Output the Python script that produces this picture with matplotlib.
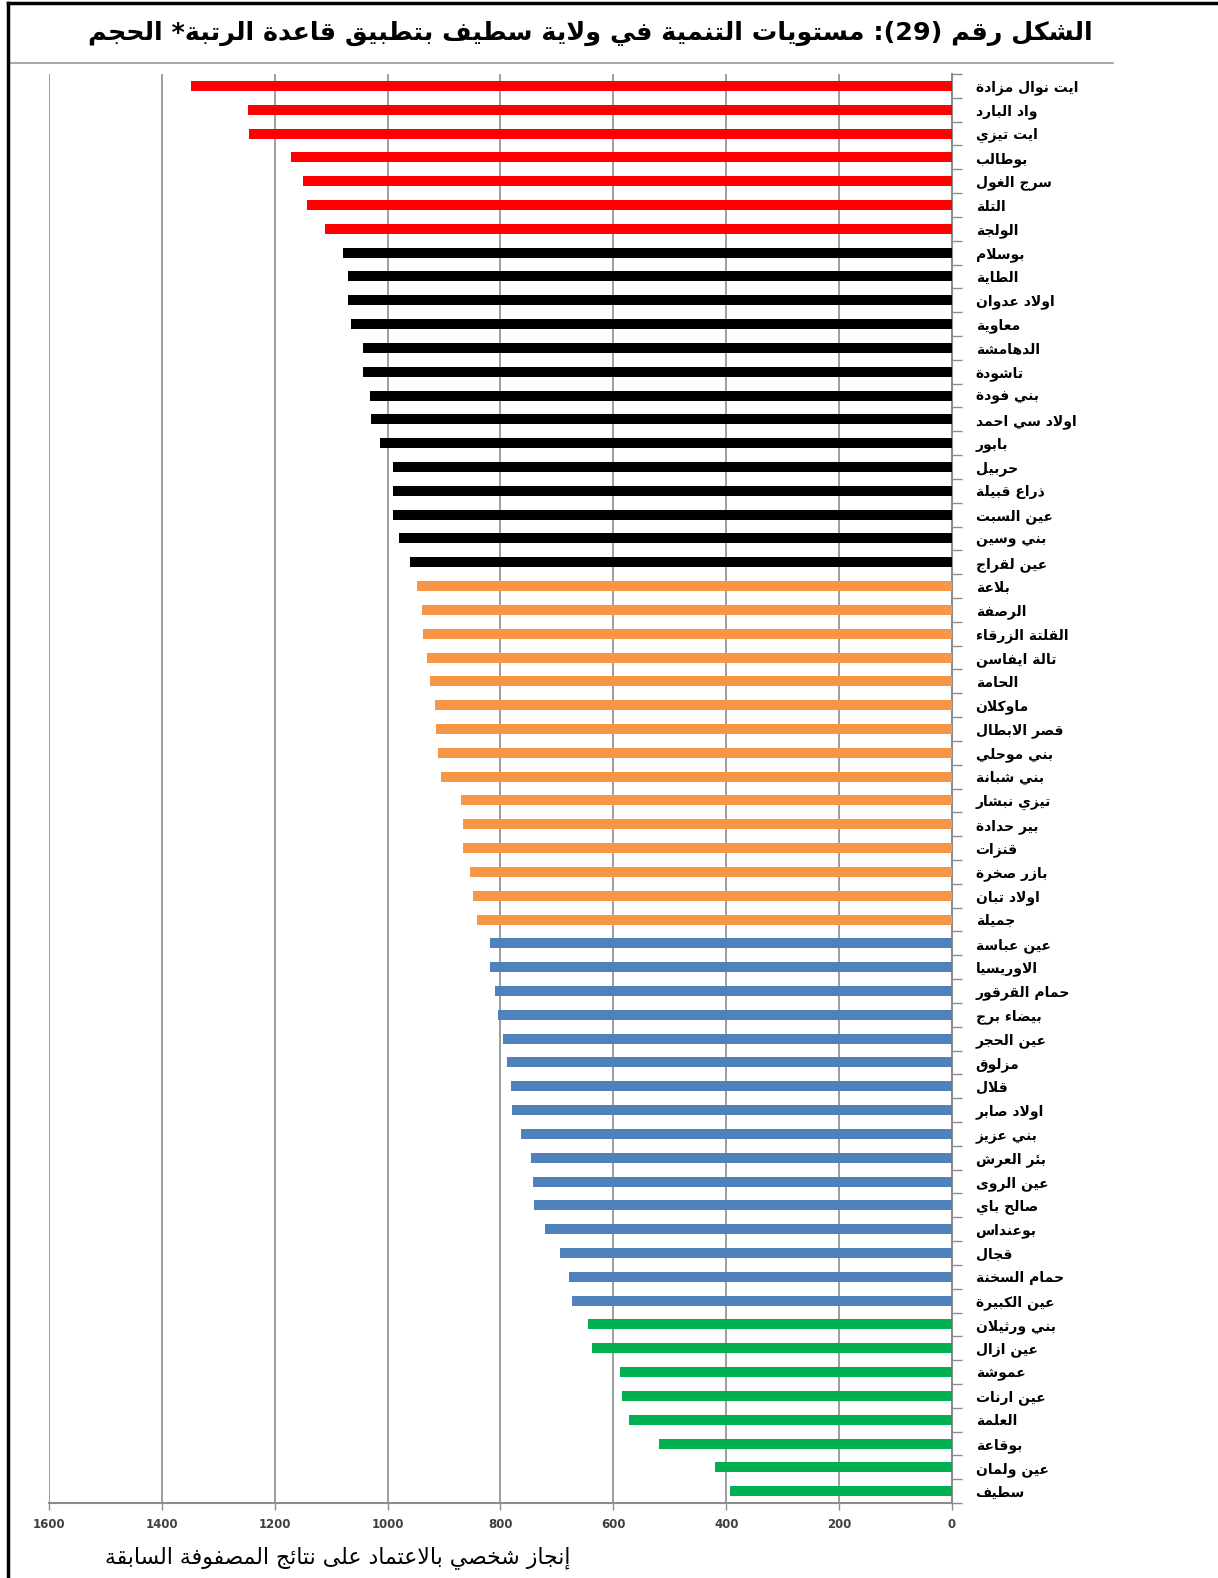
import matplotlib
matplotlib.use("Agg")
import matplotlib.pyplot as plt
from matplotlib.lines import Line2D
from matplotlib.ticker import FixedLocator
import numpy as np

plt.rcParams['font.family'] = ['DejaVu Sans']

# communes ordered from the highest to the lowest rank-size value
communes = [
    "ايت نوال مزادة", "واد البارد", "ايت تيزي", "بوطالب", "سرج الغول", "التلة", "الولجة",
    "بوسلام", "الطاية", "اولاد عدوان", "معاوية", "الدهامشة", "تاشودة", "بني فودة",
    "اولاد سي احمد", "بابور", "حربيل", "ذراع قبيلة", "عين السبت", "بني وسين", "عين لقراج",
    "بلاعة", "الرصفة", "القلتة الزرقاء", "تالة ايفاسن", "الحامة", "ماوكلان", "قصر الابطال",
    "بني موحلي", "بني شبانة", "تيزي نبشار", "بير حدادة", "قنزات", "بازر صخرة", "اولاد تبان",
    "جميلة",
    "عين عباسة", "الاوريسيا", "حمام القرقور", "بيضاء برج", "عين الحجر", "مزلوق", "قلال",
    "اولاد صابر", "بني عزيز", "بئر العرش", "عين الروى", "صالح باي", "بوعنداس", "قجال",
    "حمام السخنة", "عين الكبيرة",
    "بني ورثيلان", "عين ازال", "عموشة", "عين ارنات", "العلمة", "بوقاعة", "عين ولمان", "سطيف",
]
values = [
    1348, 1248, 1245, 1171, 1150, 1143, 1111,
    1079, 1070, 1070, 1064, 1043, 1043, 1032, 1029, 1014, 991, 991, 991, 979, 961,
    948, 939, 938, 930, 925, 916, 914, 911, 905, 870, 866, 866, 854, 848, 841,
    818, 818, 809, 805, 796, 789, 782, 780, 764, 746, 743, 741, 721, 695, 679, 673,
    645, 637, 588, 584, 573, 520, 420, 393,
]
# number of communes in each development level
level_sizes = [7, 14, 15, 16, 8]
level_colors = ["#FF0000", "#000000", "#F79646", "#4F81BD", "#00B050"]

xticks = [0, 200, 400, 600, 800, 1000, 1200, 1400, 1600]

title = "الشكل رقم (29): مستويات التنمية في ولاية سطيف بتطبيق قاعدة الرتبة* الحجم"
source = "إنجاز شخصي بالاعتماد على نتائج المصفوفة السابقة"


# --- minimal Arabic shaping (no raqm in matplotlib) ---
DUAL = {
    '\u0626': 0xFE89, '\u0628': 0xFE8F, '\u062A': 0xFE95, '\u062B': 0xFE99,
    '\u062C': 0xFE9D, '\u062D': 0xFEA1, '\u062E': 0xFEA5, '\u0633': 0xFEB1,
    '\u0634': 0xFEB5, '\u0635': 0xFEB9, '\u0636': 0xFEBD, '\u0637': 0xFEC1,
    '\u0638': 0xFEC5, '\u0639': 0xFEC9, '\u063A': 0xFECD, '\u0641': 0xFED1,
    '\u0642': 0xFED5, '\u0643': 0xFED9, '\u0644': 0xFEDD, '\u0645': 0xFEE1,
    '\u0646': 0xFEE5, '\u0647': 0xFEE9, '\u064A': 0xFEF1,
}
RIGHT = {
    '\u0622': 0xFE81, '\u0623': 0xFE83, '\u0624': 0xFE85, '\u0625': 0xFE87,
    '\u0627': 0xFE8D, '\u0629': 0xFE93, '\u062F': 0xFEA9, '\u0630': 0xFEAB,
    '\u0631': 0xFEAD, '\u0632': 0xFEAF, '\u0648': 0xFEED, '\u0649': 0xFEEF,
}
ISOL = {'\u0621': 0xFE80}
LAM_ALEF = {'\u0622': 0xFEF5, '\u0623': 0xFEF7, '\u0625': 0xFEF9, '\u0627': 0xFEFB}


def is_ar(c):
    return c in DUAL or c in RIGHT or c in ISOL


def shape(text):
    out = []
    i = 0
    n = len(text)
    while i < n:
        c = text[i]
        prev = text[i - 1] if i > 0 else ''
        prev_joins = prev in DUAL
        if c == '\u0644' and i + 1 < n and text[i + 1] in LAM_ALEF:
            base = LAM_ALEF[text[i + 1]]
            out.append(chr(base + (1 if prev_joins else 0)))
            i += 2
            continue
        nxt = text[i + 1] if i + 1 < n else ''
        next_joins = is_ar(nxt)
        if c in DUAL:
            base = DUAL[c]
            if prev_joins and next_joins:
                out.append(chr(base + 3))
            elif prev_joins:
                out.append(chr(base + 1))
            elif next_joins:
                out.append(chr(base + 2))
            else:
                out.append(chr(base))
        elif c in RIGHT:
            out.append(chr(RIGHT[c] + (1 if prev_joins else 0)))
        elif c in ISOL:
            out.append(chr(ISOL[c]))
        else:
            out.append(c)
        i += 1
    s = ''.join(out)
    # visual order: reverse, keep digit runs left-to-right, mirror brackets
    rev = s[::-1]
    res = []
    run = ''
    for ch in rev:
        if ch.isdigit():
            run += ch
        else:
            if run:
                res.append(run[::-1])
                run = ''
            res.append({'(': ')', ')': '('}.get(ch, ch))
    if run:
        res.append(run[::-1])
    return ''.join(res)


colors = []
for size, col in zip(level_sizes, level_colors):
    colors += [col] * size

fig = plt.figure(figsize=(12.18, 15.78), dpi=100)
ax = fig.add_axes([0.0402, 0.0475, 0.7414, 0.9056])

y = np.arange(len(communes))
ax.barh(y, values, height=0.42, color=colors, zorder=3)

ax.set_ylim(len(communes) - 0.5, -0.5)
ax.set_xlim(1600, 0)
ax.set_xticks(xticks)
ax.set_xticklabels([str(t) for t in xticks], fontsize=8.5, fontweight='bold', color='#404040')
ax.grid(axis='x', color='#8c8c8c', linewidth=1.2, zorder=0)

ax.yaxis.tick_right()
ax.set_yticks(y)
ax.set_yticklabels([shape(c) for c in communes], fontsize=10, fontweight='bold')
ax.yaxis.set_minor_locator(FixedLocator(np.arange(-0.5, len(communes), 1.0)))
ax.tick_params(axis='y', which='major', length=0, pad=17)
ax.tick_params(axis='y', which='minor', length=7, color='#8c8c8c', width=1)
ax.tick_params(axis='x', length=5, color='#8c8c8c', width=1, pad=6)

for side in ['top', 'left']:
    ax.spines[side].set_visible(False)
for side in ['right', 'bottom']:
    ax.spines[side].set_color('#8c8c8c')
    ax.spines[side].set_linewidth(1.5)

fig.text(0.485, 0.979, shape(title), fontsize=18.3, fontweight='bold', ha='center', va='center')
fig.text(0.277, 0.0127, shape(source), fontsize=15.8, ha='center', va='center')

# frame and separator lines
fig.add_artist(Line2D([0.0082, 0.914], [1 - 63 / 1578] * 2, color='#9a9a9a', linewidth=1.2))
fig.add_artist(Line2D([0.0062, 1.0], [1 - 3 / 1578] * 2, color='black', linewidth=2.5))
fig.add_artist(Line2D([0.0062, 0.0062], [0, 1 - 3 / 1578], color='black', linewidth=2.5))

fig.savefig("out.png", dpi=100)
plt.close(fig)
